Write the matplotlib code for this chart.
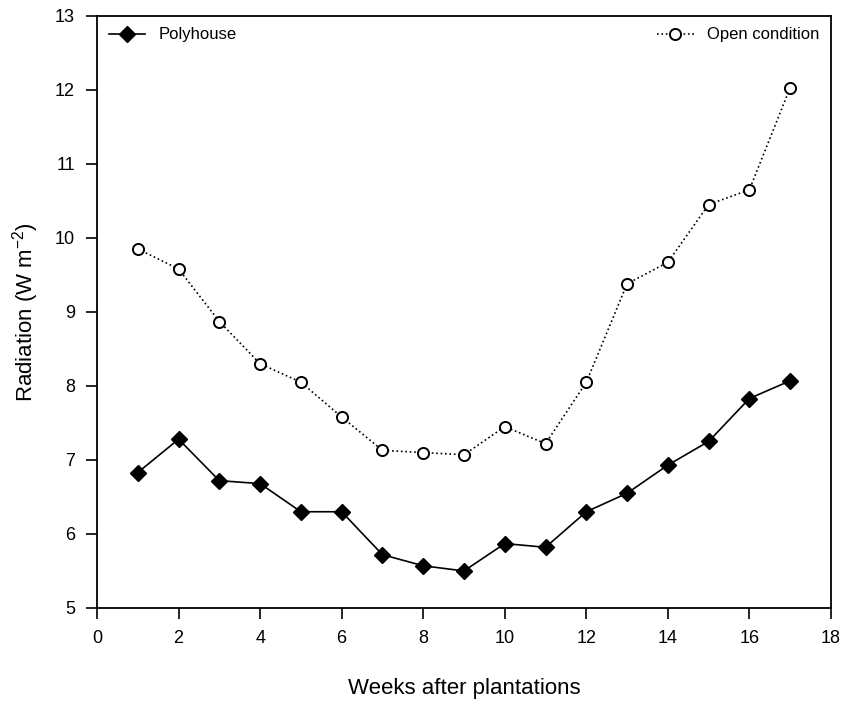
import matplotlib
matplotlib.use("Agg")
import matplotlib.pyplot as plt

plt.rcParams.update({
    "font.family": ["Liberation Sans", "DejaVu Sans"],
    "mathtext.fontset": "custom",
    "mathtext.rm": "Liberation Sans",
})

weeks = list(range(1, 18))
polyhouse = [6.83, 7.28, 6.72, 6.68, 6.30, 6.30, 5.72, 5.57, 5.50,
             5.87, 5.82, 6.30, 6.55, 6.93, 7.25, 7.83, 8.07]
open_cond = [9.85, 9.58, 8.87, 8.30, 8.05, 7.58, 7.13, 7.10, 7.07,
             7.45, 7.22, 8.05, 9.38, 9.67, 10.45, 10.65, 12.03]

fig = plt.figure(figsize=(8.46, 7.10), dpi=100)
ax = fig.add_axes([0.1147, 0.1437, 0.8675, 0.834])

l1, = ax.plot(weeks, polyhouse, color="black", lw=1.2, marker="D",
              markersize=8, markerfacecolor="black", label="Polyhouse")
l2, = ax.plot(weeks, open_cond, color="black", lw=1.2, ls=":", marker="o",
              markersize=8, markerfacecolor="white", markeredgewidth=1.4,
              label="Open condition")

ax.set_xlim(0, 18)
ax.set_ylim(5, 13)
ax.set_xticks(range(0, 19, 2))
ax.set_yticks(range(5, 14))
ax.tick_params(direction="out", length=8, width=1.2, labelsize=13,
               pad=8, color="black")
for s in ax.spines.values():
    s.set_linewidth(1.3)

ax.set_xlabel("Weeks after plantations", fontsize=16, labelpad=22)
ax.set_ylabel("Radiation (W m$^{\\mathregular{-2}}$)", fontsize=16, labelpad=10)

leg1 = ax.legend(handles=[l1], loc="upper left", frameon=False, fontsize=12,
                 handlelength=2.2, borderaxespad=0.3)
ax.add_artist(leg1)
ax.legend(handles=[l2], loc="upper right", frameon=False, fontsize=12,
          handlelength=2.2, borderaxespad=0.3)

fig.savefig("out.png", dpi=100)
